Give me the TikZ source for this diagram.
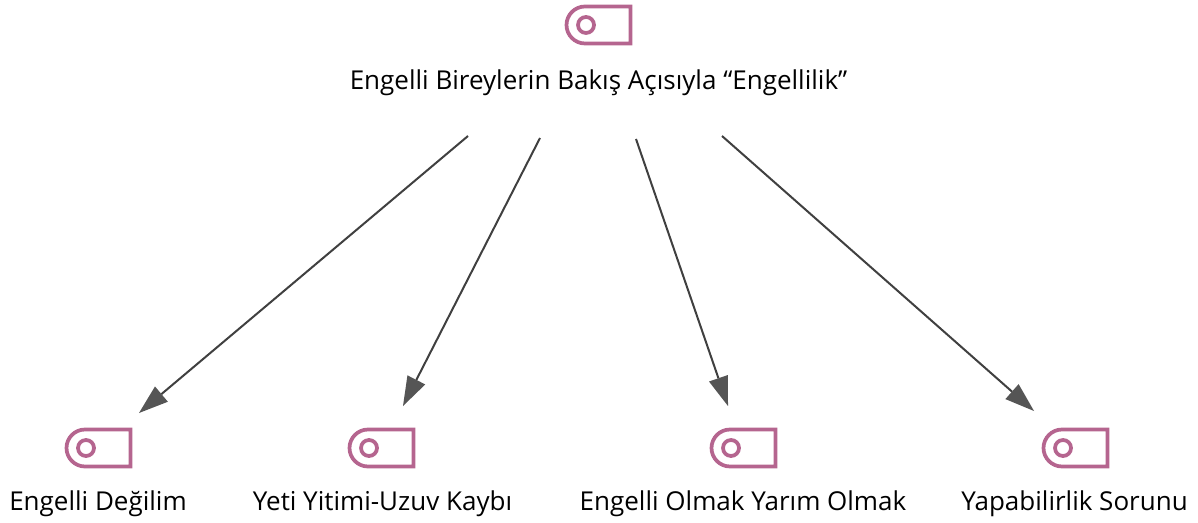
\documentclass[tikz,border=0pt]{standalone}
\usepackage{fontspec}
\setmainfont{Open Sans}
\usetikzlibrary{arrows.meta}
\definecolor{tagc}{HTML}{B5658F}
\definecolor{linec}{HTML}{404040}
\definecolor{headc}{HTML}{555555}
\tikzset{
 lbl/.style={inner sep=0pt,font=\fontsize{19.5pt}{22pt}\selectfont,text=black,anchor=base},
 conn/.style={draw=linec,line width=1.5pt,-{Triangle[length=22pt,width=15pt,color=headc,fill=headc,line width=0pt]}},
 tagline/.style={draw=tagc,line width=2.8pt,line join=miter}
}
\newcommand{\tagicon}[2]{%
 \draw[tagline] (#1+32.5,#2-18.5) -- (#1+32.5,#2+18.5) -- (#1-13,#2+18.5)
   .. controls (#1-23.2,#2+18.5) and (#1-31.5,#2+10.2) .. (#1-31.5,#2)
   .. controls (#1-31.5,#2-10.2) and (#1-23.2,#2-18.5) .. (#1-13,#2-18.5) -- cycle;
 \draw[draw=tagc,line width=2.8pt] (#1-12,#2) circle[radius=8];
}
\begin{document}
\begin{tikzpicture}[x=0.75pt,y=-0.75pt]
\useasboundingbox (0,0) rectangle (1198,523);
\tagicon{598}{25}
\tagicon{98}{448}
\tagicon{381}{448}
\tagicon{743}{448}
\tagicon{1075}{448}
\node[lbl] (top) at (598.5,90) {Engelli Bireylerin Bakış Açısıyla “Engellilik”};
\node[lbl] (a) at (98,510) {Engelli Değilim};
\node[lbl] (b) at (382.5,510) {Yeti Yitimi-Uzuv Kaybı};
\node[lbl] (c) at (743,510) {Engelli Olmak Yarım Olmak};
\node[lbl] (d) at (1074.5,510) {Yapabilirlik Sorunu};
\coordinate (s1) at (468,136); \coordinate (e1) at (139,413);
\coordinate (s2) at (540,138); \coordinate (e2) at (403,406);
\coordinate (s3) at (636,139); \coordinate (e3) at (728,406);
\coordinate (s4) at (722,136); \coordinate (e4) at (1034,411);
\draw[conn] (s1) -- (e1);
\draw[conn] (s2) -- (e2);
\draw[conn] (s3) -- (e3);
\draw[conn] (s4) -- (e4);
\end{tikzpicture}
\end{document}
